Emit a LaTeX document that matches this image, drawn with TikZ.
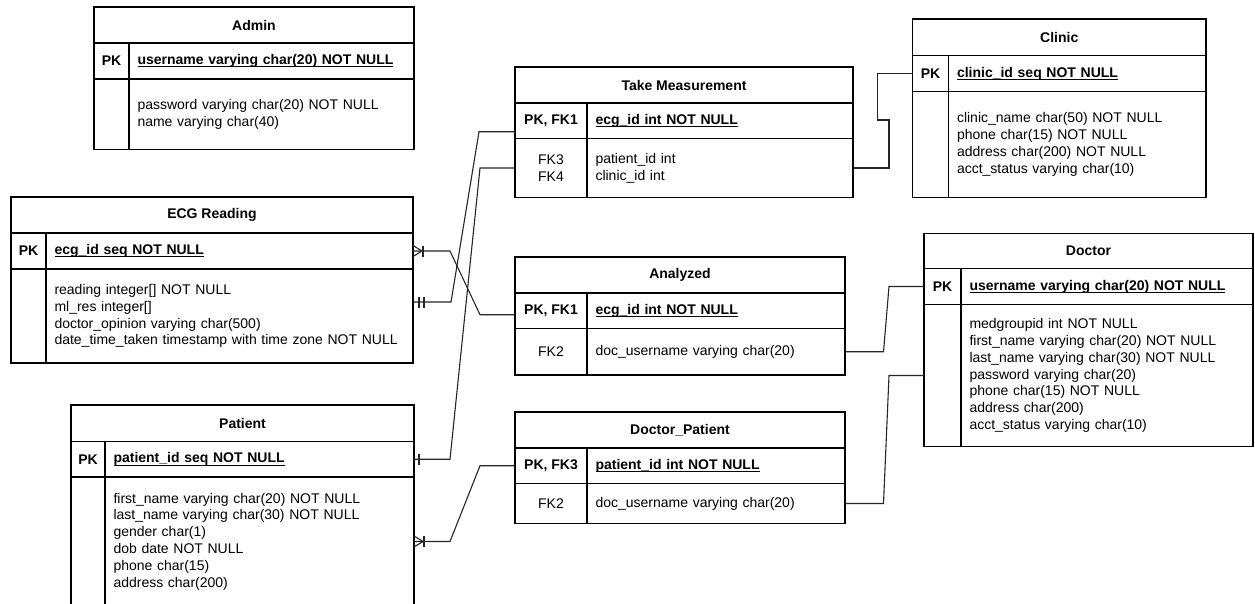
\documentclass[tikz,border=0pt]{standalone}
\usepackage{fontspec}
\setmainfont{Liberation Sans}
\newsavebox\pkulbox
\newcommand\pkul[1]{\sbox\pkulbox{#1}\rlap{\rule[-2.6pt]{\wd\pkulbox}{0.8pt}}\usebox\pkulbox}
\newcommand\erreg{\fontsize{14}{16.8}\selectfont}
\newcommand\erbold{\fontsize{14}{16.8}\selectfont\bfseries}
\tikzset{
  cell/.style={draw=black, line width=1.1pt, inner ysep=0pt, outer sep=0pt, anchor=north west, font=\erreg, text=black},
  link/.style={draw=black!85, line width=1.1pt, line join=miter},
  crowfoot/.pic={\draw[link] (0,-5.5) -- (9,0) -- (0,5.5); \draw[link] (10,-5.5) -- (10,5.5);},
  dbar/.pic={\draw[link] (6,-5.5) -- (6,5.5); \draw[link] (11,-5.5) -- (11,5.5);},
  sbar/.pic={\draw[link] (5,-5.5) -- (5,5.5);}
}
% #1 name, #2 left, #3 column divider, #4 right, #5 top, #6 title sep, #7 pk sep, #8 bottom, #9 title
\newcommand\ertable[9]{%
  \pgfmathsetmacro\erW{#4-#2}\pgfmathsetmacro\erKW{#3-#2}\pgfmathsetmacro\erFW{#4-#3}%
  \pgfmathsetmacro\erFT{#4-#3-17}%
  \pgfmathsetmacro\erHT{#6-#5}\pgfmathsetmacro\erHP{#7-#6}\pgfmathsetmacro\erHB{#8-#7}%
  \node[cell, minimum width=\erW pt, minimum height=\erHT pt, align=center, font=\erbold] (#1-t) at (#2,#5) {#9};
  \node[cell, minimum width=\erKW pt, minimum height=\erHP pt, align=center, font=\erbold] (#1-pkk) at (#2,#6) {\pkkey};
  \node[cell, minimum width=\erFW pt, minimum height=\erHP pt, text width=\erFT pt, inner xsep=8.5pt, align=left, font=\erbold] (#1-pkf) at (#3,#6) {\pkul{\pkfield}};
  \node[cell, minimum width=\erKW pt, minimum height=\erHB pt, align=center] (#1-bk) at (#2,#7) {\bkey};
  \node[cell, minimum width=\erFW pt, minimum height=\erHB pt, text width=\erFT pt, inner xsep=8.5pt, align=left] (#1-bf) at (#3,#7) {\bfield};
}
\begin{document}
\begin{tikzpicture}[x=1pt, y=-1pt]
\useasboundingbox (0,0) rectangle (1255,604);
\fill[white] (0,0) rectangle (1255,604);
\clip (0,0) rectangle (1255,604);

% Admin
\def\pkkey{PK}\def\pkfield{username varying char(20) NOT NULL}\def\bkey{}%
\def\bfield{password varying char(20) NOT NULL\\name varying char(40)}%
\ertable{adm}{94}{129}{414}{7}{43}{79}{149.5}{Admin}

% ECG Reading
\def\pkkey{PK}\def\pkfield{ecg\_id seq NOT NULL}\def\bkey{}%
\def\bfield{reading integer[] NOT NULL\\ml\_res integer[]\\doctor\_opinion varying char(500)\\date\_time\_taken timestamp with time zone NOT NULL}%
\ertable{ecg}{11}{46}{413}{197}{233}{269}{363}{ECG Reading}

% Patient
\def\pkkey{PK}\def\pkfield{patient\_id seq NOT NULL}\def\bkey{}%
\def\bfield{first\_name varying char(20) NOT NULL\\last\_name varying char(30) NOT NULL\\gender char(1)\\dob date NOT NULL\\phone char(15)\\address char(200)}%
\ertable{pat}{71}{105}{414}{405}{441.5}{477}{606}{Patient}

% Take Measurement
\def\pkkey{PK, FK1}\def\pkfield{ecg\_id int NOT NULL}\def\bkey{FK3\\FK4}%
\def\bfield{patient\_id int\\clinic\_id int}%
\ertable{tm}{515}{587}{853}{67}{103}{138.5}{197.5}{Take Measurement}

% Analyzed
\def\pkkey{PK, FK1}\def\pkfield{ecg\_id int NOT NULL}\def\bkey{FK2}%
\def\bfield{doc\_username varying char(20)}%
\ertable{an}{515}{587}{845}{257}{293}{328.5}{375}{Analyzed}

% Doctor_Patient
\def\pkkey{PK, FK3}\def\pkfield{patient\_id int NOT NULL}\def\bkey{FK2}%
\def\bfield{doc\_username varying char(20)}%
\ertable{dp}{515}{587}{845}{412}{448}{483.5}{523.5}{Doctor\_Patient}

% Clinic
\def\pkkey{PK}\def\pkfield{clinic\_id seq NOT NULL}\def\bkey{}%
\def\bfield{clinic\_name char(50) NOT NULL\\phone char(15) NOT NULL\\address char(200) NOT NULL\\acct\_status varying char(10)}%
\ertable{cl}{912.5}{948.5}{1206}{19}{55.5}{91.5}{197.5}{Clinic}

% Doctor
\def\pkkey{PK}\def\pkfield{username varying char(20) NOT NULL}\def\bkey{}%
\def\bfield{medgroupid int NOT NULL\\first\_name varying char(20) NOT NULL\\last\_name varying char(30) NOT NULL\\password varying char(20)\\phone char(15) NOT NULL\\address char(200)\\acct\_status varying char(10)}%
\ertable{dr}{924}{961}{1253}{233.5}{268.5}{304.5}{446.5}{Doctor}

% connectors
\draw[link] (ecg-pkf.east) -- ++(37,0) -- ([xshift=-35pt,yshift=-4pt]an-pkk.west) -- ([yshift=-4pt]an-pkk.west);
\pic at (ecg-pkf.east) {crowfoot};

\draw[link] ([yshift=14pt]ecg-bf.east) -- ++(38,0) -- ([xshift=-36pt,yshift=-11pt]tm-pkk.west) -- ([yshift=-11pt]tm-pkk.west);
\pic at ([yshift=14pt]ecg-bf.east) {dbar};

\draw[link] (tm-bk.west) -- ++(-35,0) -- ([xshift=36pt]pat-pkf.east) -- (pat-pkf.east);
\pic at (pat-pkf.east) {sbar};

\draw[link] (dp-pkk.west) -- ++(-35,0) -- ([xshift=36pt]pat-bf.east) -- (pat-bf.east);
\pic at (pat-bf.east) {crowfoot};

\draw[link] (tm-bf.east) -- ++(36,0) -- ++(0,-48) -- ++(-11.5,0) |- (cl-pkk.west);

\draw[link] (an-bf.east) -- ++(38.5,0) -- ([xshift=-35pt]dr-pkk.west) -- (dr-pkk.west);
\draw[link] (dp-bf.east) -- ++(38.5,0) -- ([xshift=-35pt]dr-bk.west) -- (dr-bk.west);
\end{tikzpicture}
\end{document}
